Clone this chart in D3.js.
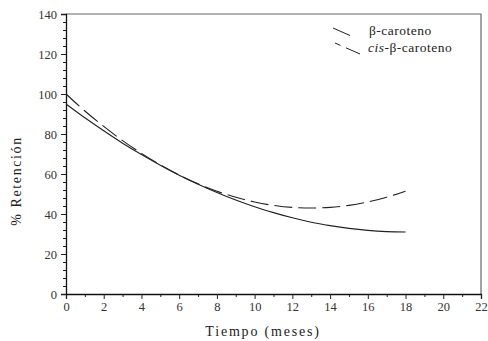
<!DOCTYPE html>
<html><head><meta charset="utf-8">
<script src="https://cdn.jsdelivr.net/npm/d3@7"></script>
<style>body{margin:0;background:#fff}svg{display:block}</style>
</head><body><svg id="c" width="488" height="341"></svg>
<script>
const months = [0,1,2,3,4,5,6,7,8,9,10,11,12,13,14,15,16,17,18];
const betaCaroteno = [95,88.1,81.6,75.4,69.7,64.4,59.4,54.9,50.8,47,43.6,40.7,38.1,35.9,34.2,32.8,31.8,31.2,31];
const cisBetaCaroteno = [100,91.5,83.8,76.7,70.3,64.6,59.5,55.1,51.4,48.4,46,44.3,43.3,43,43.3,44.3,46,48.4,51.4];
const xTicks = [0,2,4,6,8,10,12,14,16,18,20,22];
const yTicks = [0,20,40,60,80,100,120,140];
const seriesNames = ["β-caroteno","cis-β-caroteno"];

const FONT = "'Liberation Serif'";
const svg = d3.select("#c");
const L=66,R=481,T=14,B=294;
const x = d3.scaleLinear().domain([0,22]).range([L,R]);
const y = d3.scaleLinear().domain([0,140]).range([B,T]);

// frame (top & right)
svg.append("path").attr("d",`M${L},${T}H${R}V${B}`).attr("fill","none").attr("stroke","#666").attr("stroke-width",1.2);

// minor ticks
const gx = svg.append("g").attr("transform",`translate(0,${B})`);
gx.call(d3.axisBottom(x).tickValues(d3.range(1,22,2)).tickSize(3).tickFormat(""));
const gy = svg.append("g").attr("transform",`translate(${L},0)`);
gy.call(d3.axisLeft(y).tickValues(d3.range(0,141,4).filter(v=>v%20)).tickSize(3).tickFormat(""));

// major axes
const ax = svg.append("g").attr("transform",`translate(0,${B})`)
  .call(d3.axisBottom(x).tickValues(xTicks).tickSize(5).tickPadding(3).tickFormat(d3.format("d")));
const ay = svg.append("g").attr("transform",`translate(${L},0)`)
  .call(d3.axisLeft(y).tickValues(yTicks).tickSize(5).tickPadding(4).tickFormat(d3.format("d")));
[gx,gy,ax,ay].forEach(g=>{
  g.attr("font-family",null).attr("font-size",null);
  g.selectAll(".domain").attr("stroke","#111").attr("stroke-width",1.3);
  g.selectAll(".tick line").attr("stroke","#222");
  g.selectAll("text").style("font-family",FONT).attr("font-size",12.5).attr("fill","#333");});
gx.select(".domain").remove(); gy.select(".domain").remove();

// curves
const line = d3.line().x((d,i)=>x(months[i])).y(d=>y(d)).curve(d3.curveMonotoneX);
svg.append("path").datum(betaCaroteno).attr("d",line).attr("fill","none").attr("stroke","#222").attr("stroke-width",1.1);
svg.append("path").datum(cisBetaCaroteno).attr("d",line).attr("fill","none").attr("stroke","#222").attr("stroke-width",1.1).attr("stroke-dasharray","18,6");

// axis titles
svg.append("text").attr("x",263).attr("y",336).attr("text-anchor","middle").style("font-family",FONT).attr("font-size",14).attr("letter-spacing",1.8).attr("fill","#222").text("Tiempo (meses)");
svg.append("text").attr("transform","translate(21,181) rotate(-90)").attr("text-anchor","middle").style("font-family",FONT).attr("font-size",14).attr("letter-spacing",1.6).attr("fill","#222").text("% Retención");

// legend
svg.append("line").attr("x1",333).attr("y1",28).attr("x2",350).attr("y2",35.5).attr("stroke","#222").attr("stroke-width",1);
svg.append("line").attr("x1",335).attr("y1",43).attr("x2",360).attr("y2",54).attr("stroke","#222").attr("stroke-width",1).attr("stroke-dasharray","6,6,20");
svg.append("text").attr("x",369).attr("y",35).style("font-family",FONT).attr("font-size",13.5).attr("letter-spacing",0.5).attr("fill","#222").text(seriesNames[0]);
const t2 = svg.append("text").attr("x",368).attr("y",52).style("font-family",FONT).attr("font-size",13.5).attr("letter-spacing",0.5).attr("fill","#222");
t2.append("tspan").attr("font-style","italic").text("cis");
t2.append("tspan").text("-β-caroteno");
</script></body></html>
